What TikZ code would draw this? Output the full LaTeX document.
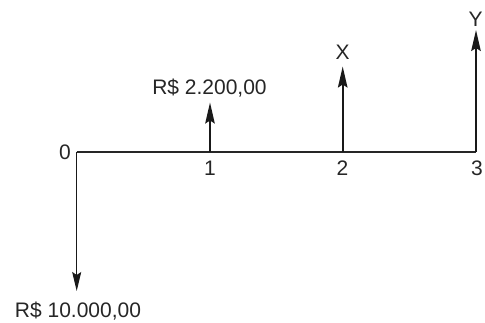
\documentclass[tikz,border=0pt]{standalone}
\usepackage{fontspec}
\setmainfont{Liberation Sans}
\usetikzlibrary{arrows.meta}
\begin{document}
\begin{tikzpicture}[x=1pt,y=-1pt,
  lbl/.style={inner sep=0pt,anchor=base,font=\fontsize{21}{25}\selectfont,text=black!85},
  axisline/.style={line width=1.2pt,draw=black!85},
  uparrow/.style={line width=2pt,draw=black!90,-{Stealth[length=21pt,width=9.5pt,inset=3pt]}},
  downarrow/.style={line width=1pt,draw=black!90,-{Stealth[length=19pt,width=9pt,inset=3pt]}}]
\useasboundingbox (0,0) rectangle (485,323);
\coordinate (t0) at (76.7,152);
\coordinate (t1) at (210,152);
\coordinate (t2) at (342.7,152);
\coordinate (t3) at (476,152);
\coordinate (p0) at (76.7,291);
\coordinate (p1) at (210,102.5);
\coordinate (p2) at (342.7,66.5);
\coordinate (p3) at (476,30);
\draw[axisline] (t0) -- (t3);
\draw[downarrow] (t0) -- (p0);
\draw[uparrow] (t1) -- (p1);
\draw[uparrow] (t2) -- (p2);
\draw[uparrow] (t3) -- (p3);
\node[lbl] (l0) at (65,160) {0};
\node[lbl] (l1) at (210,176) {1};
\node[lbl] (l2) at (342.5,176) {2};
\node[lbl] (l3) at (477,176) {3};
\node[lbl] (v1) at (209.5,94.5) {R\$ 2.200,00};
\node[lbl] (v2) at (342.7,60) {X};
\node[lbl] (v3) at (475.7,26.7) {Y};
\node[lbl] (v0) at (78,318) {R\$ 10.000,00};
\end{tikzpicture}
\end{document}
